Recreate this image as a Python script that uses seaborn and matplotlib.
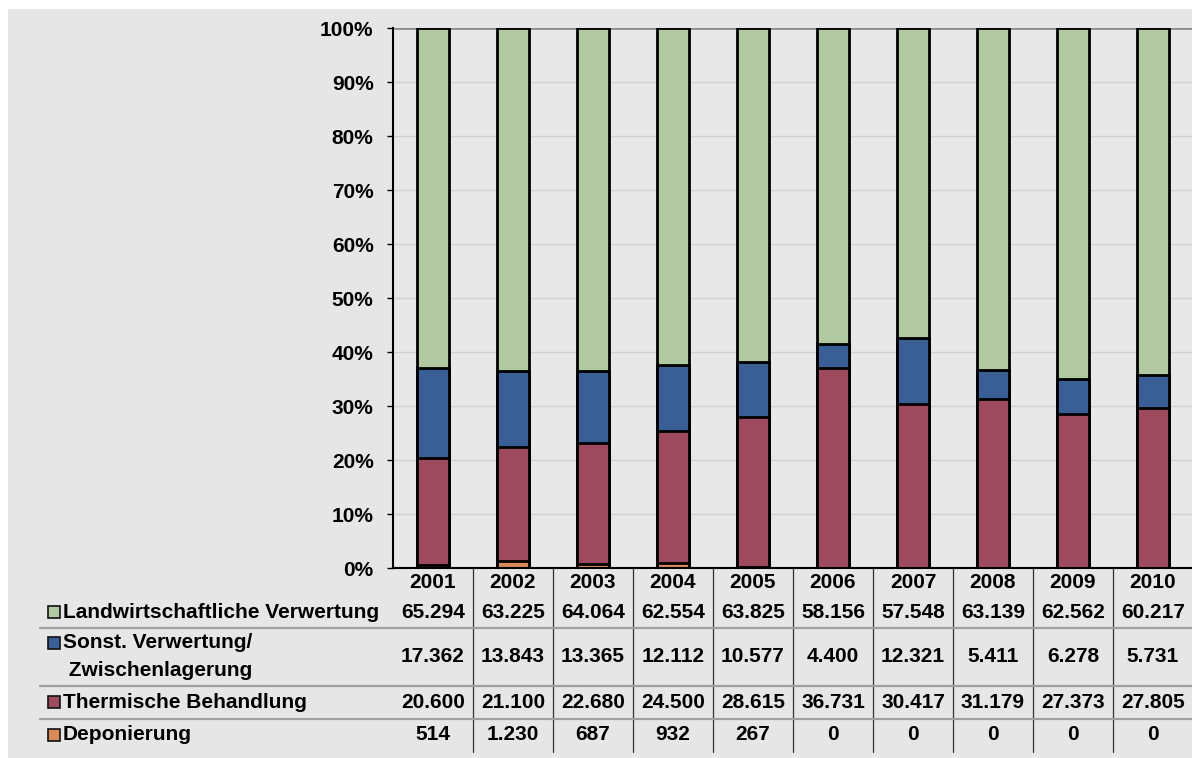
import matplotlib
matplotlib.use("Agg")
import matplotlib.pyplot as plt
from matplotlib import transforms
from matplotlib.patches import Rectangle
import numpy as np
import pandas as pd
import seaborn as sns

jahre = ['2001', '2002', '2003', '2004', '2005', '2006', '2007', '2008', '2009', '2010']
landwirtschaft = [65294, 63225, 64064, 62554, 63825, 58156, 57548, 63139, 62562, 60217]
sonstige = [17362, 13843, 13365, 12112, 10577, 4400, 12321, 5411, 6278, 5731]
thermisch = [20600, 21100, 22680, 24500, 28615, 36731, 30417, 31179, 27373, 27805]
deponie = [514, 1230, 687, 932, 267, 0, 0, 0, 0, 0]

namen = ['Landwirtschaftliche Verwertung', 'Sonst. Verwertung/\n Zwischenlagerung',
         'Thermische Behandlung', 'Deponierung']
farben = ['#b2c8a0', '#3a5f94', '#9e4a5e', '#d98a5a']

sns.set_style('white')
plt.rcParams['font.family'] = ['Liberation Sans', 'DejaVu Sans']
plt.rcParams['font.weight'] = 'bold'
plt.rcParams['text.color'] = 'black'
plt.rcParams['ytick.color'] = 'black'
plt.rcParams['ytick.labelcolor'] = 'black'
FS = 15

df = pd.DataFrame({'jahr': jahre, 'landw': landwirtschaft, 'sonst': sonstige,
                   'therm': thermisch, 'depo': deponie})
summe = df[['landw', 'sonst', 'therm', 'depo']].sum(axis=1)
df['p_depo'] = df['depo'] / summe * 100
df['p_therm'] = df['p_depo'] + df['therm'] / summe * 100
df['p_sonst'] = df['p_therm'] + df['sonst'] / summe * 100
df['p_landw'] = df['p_sonst'] + df['landw'] / summe * 100

W, H = 1192, 758
fig = plt.figure(figsize=(W / 100, H / 100), dpi=100)
fig.patch.set_facecolor('white')
fig.add_artist(Rectangle((8 / W, 0), 1 - 8 / W, 1 - 9 / H, transform=fig.transFigure,
                         facecolor='#e6e6e6', edgecolor='none', zorder=-10))

ax = fig.add_axes([393 / W, 1 - 568 / H, 800 / W, 540 / H])
ax.set_facecolor('#e8e8e8')

# gestapelte Balken: kumulierte Summen von oben nach unten uebermalen
for spalte, farbe in zip(['p_landw', 'p_sonst', 'p_therm', 'p_depo'], farben):
    sns.barplot(data=df, x='jahr', y=spalte, color=farbe, saturation=1, width=0.41,
                edgecolor='black', linewidth=2, errorbar=None, ax=ax, zorder=3)

ax.set_xlim(-0.5, 9.5)
ax.set_ylim(0, 100)
ax.set_yticks(np.arange(0, 101, 10))
ax.set_yticklabels([f'{v}%' for v in range(0, 101, 10)], fontsize=FS, fontweight='bold')
ax.set_xticks([])
ax.set_xlabel('')
ax.set_ylabel('')
ax.tick_params(axis='y', length=4, width=1, color='black', pad=10, left=True)
for y in range(10, 100, 10):
    ax.axhline(y, color='#cfcfcf', lw=1, zorder=1)
ax.axhline(100, color='#8c8c8c', lw=2, zorder=2)
for s in ['top', 'right']:
    ax.spines[s].set_visible(False)
ax.spines['left'].set_color('black')
ax.spines['left'].set_linewidth(1.5)
ax.spines['bottom'].set_color('black')
ax.spines['bottom'].set_linewidth(1.5)
ax.spines['left'].set_zorder(4)
ax.spines['bottom'].set_zorder(4)

# Datentabelle unter dem Diagramm
tr = transforms.blended_transform_factory(ax.transData, fig.transFigure)
def fy(pix):
    return 1 - pix / H

for i in range(1, 10):
    ax.plot([i - 0.5, i - 0.5], [fy(568), fy(752)], transform=tr, color='#333333',
            lw=0.9, clip_on=False)
for ypix in [628, 686, 719]:
    fig.add_artist(plt.Line2D([40 / W, 1], [fy(ypix), fy(ypix)], transform=fig.transFigure,
                              color='#a0a0a0', lw=1.6))

zeilen_y = [612, 657, 702, 735]
werte = [landwirtschaft, sonstige, thermisch, deponie]

def fmt(v):
    return f'{v:,}'.replace(',', '.')

for i, j in enumerate(jahre):
    ax.text(i, fy(582), j, transform=tr, ha='center', va='center', fontsize=FS,
            fontweight='bold')
for yp, reihe, name, farbe in zip(zeilen_y, werte, namen, farben):
    for i, v in enumerate(reihe):
        ax.text(i, fy(yp), fmt(v), transform=tr, ha='center', va='center',
                fontsize=FS, fontweight='bold')
    if '\n' in name:
        erste, zweite = name.split('\n')
        fig.text(63 / W, fy(yp - 14), erste, ha='left', va='center', fontsize=FS,
                 fontweight='bold')
        fig.text(63 / W, fy(yp + 13), zweite, ha='left', va='center', fontsize=FS,
                 fontweight='bold')
        sq_y = yp - 14
    else:
        fig.text(63 / W, fy(yp), name, ha='left', va='center', fontsize=FS,
                 fontweight='bold')
        sq_y = yp
    fig.add_artist(Rectangle((48 / W, fy(sq_y + 6)), 12 / W, 12 / H,
                             transform=fig.transFigure, facecolor=farbe,
                             edgecolor='#111111', lw=1.2))

fig.savefig('out.png', dpi=100)
